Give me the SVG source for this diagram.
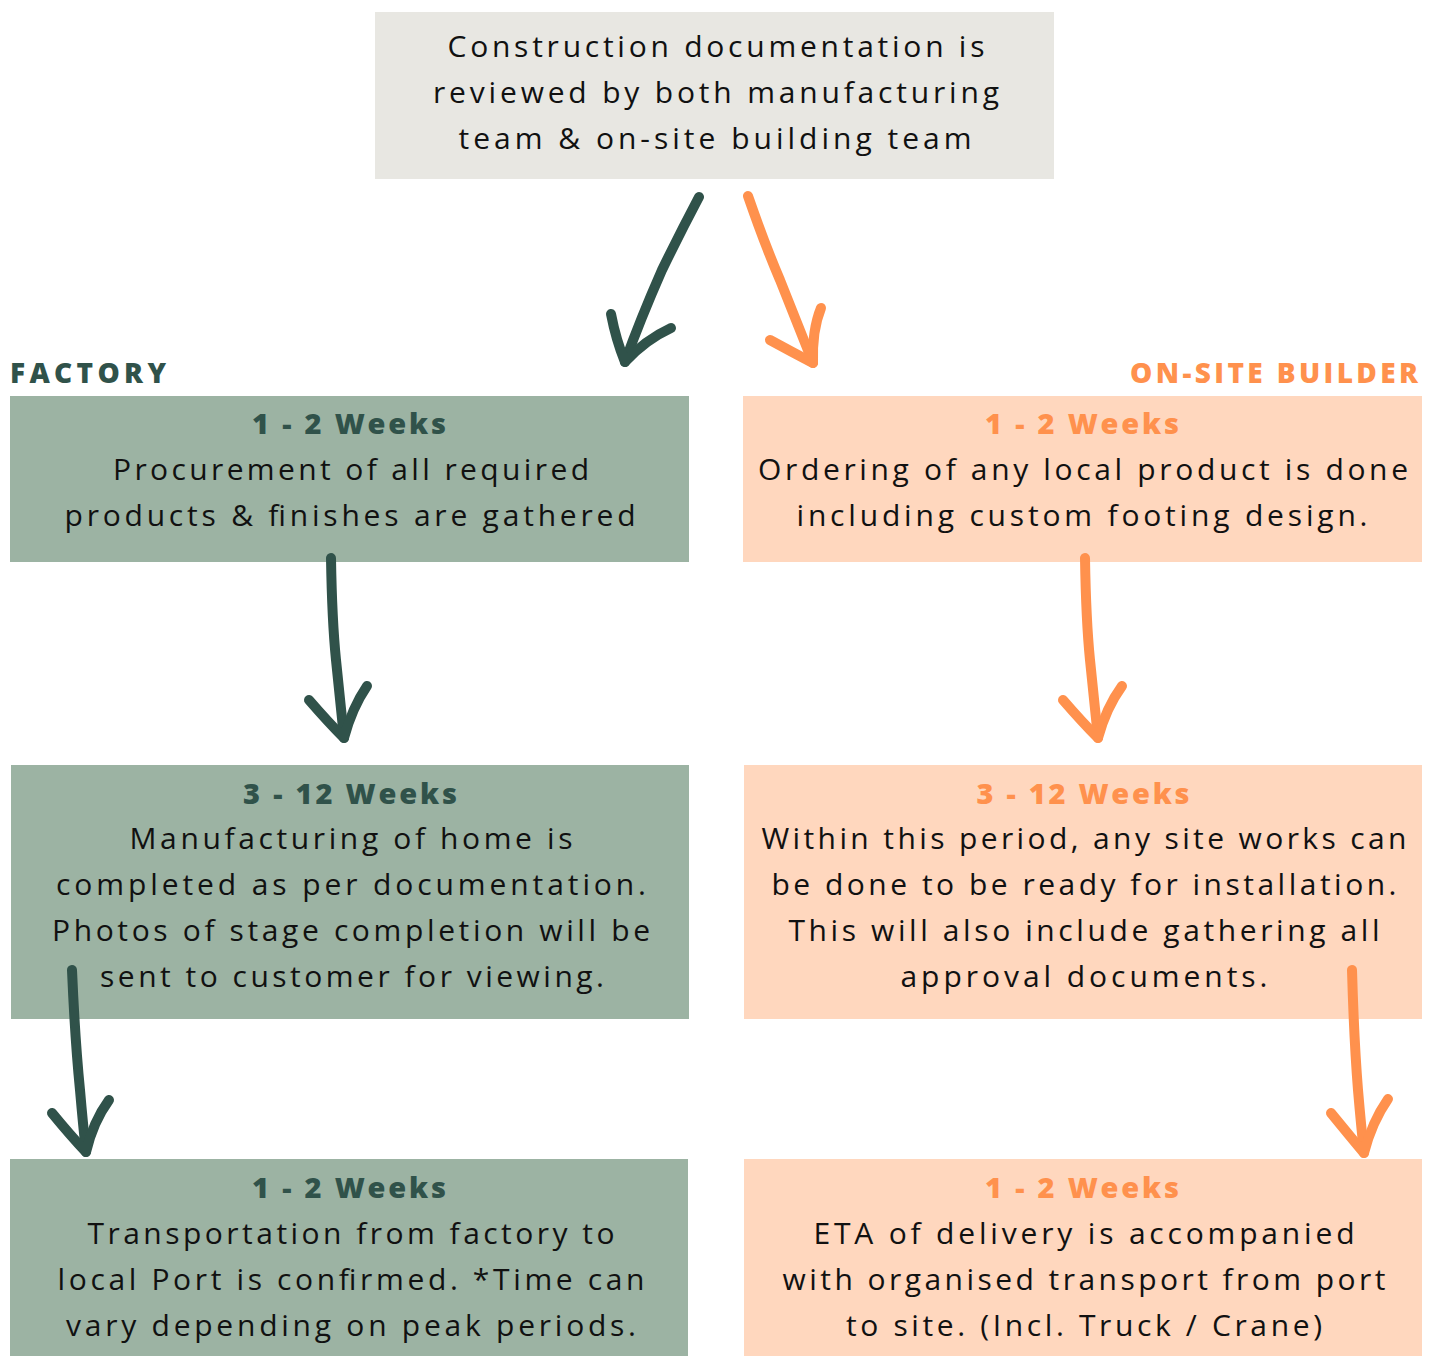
<svg xmlns="http://www.w3.org/2000/svg" width="1434" height="1356" viewBox="0 0 1434 1356">
<style>
.bg{fill:#ffffff}
.top{fill:#E8E7E2}
.fac{fill:#9CB3A3}
.ons{fill:#FFD7BE}
.t{font-family:"Open Sans","Liberation Sans",sans-serif;font-size:30px;fill:#111111;text-anchor:middle}
.h{font-family:"Open Sans","Liberation Sans",sans-serif;font-size:29px;font-weight:800;text-anchor:middle}
.hg{fill:#30524A}
.ho{fill:#FF914D}
.lbl{font-family:"Open Sans","Liberation Sans",sans-serif;font-size:28px;font-weight:800}
.ag{fill:none;stroke:#30524A;stroke-width:10;stroke-linecap:round;stroke-linejoin:round}
.ao{fill:none;stroke:#FF914D;stroke-width:10;stroke-linecap:round;stroke-linejoin:round}
</style>
<rect class="bg" x="0" y="0" width="1434" height="1356"/>

<g id="review">
<rect class="top" x="375" y="12" width="679" height="167"/>
<text class="t" x="716" y="57" textLength="537" lengthAdjust="spacing">Construction documentation is</text>
<text class="t" x="716" y="103" textLength="566" lengthAdjust="spacing">reviewed by both manufacturing</text>
<text class="t" x="715" y="149" textLength="513" lengthAdjust="spacing">team &amp; on-site building team</text>
</g>

<g id="label-factory">
<text class="lbl hg" x="10" y="383" textLength="156" lengthAdjust="spacing">FACTORY</text>
</g>
<g id="label-onsite">
<text class="lbl ho" x="1418" y="383" text-anchor="end" textLength="288" lengthAdjust="spacing">ON-SITE BUILDER</text>
</g>

<g id="factory-1">
<rect class="fac" x="10" y="396" width="679" height="166"/>
<text class="h hg" x="349" y="434" textLength="194" lengthAdjust="spacing">1 - 2 Weeks</text>
<text class="t" x="351" y="480" textLength="476" lengthAdjust="spacing">Procurement of all required</text>
<text class="t" x="350" y="526" textLength="571" lengthAdjust="spacing">products &amp; finishes are gathered</text>
</g>

<g id="onsite-1">
<rect class="ons" x="743" y="396" width="679" height="166"/>
<text class="h ho" x="1082" y="434" textLength="194" lengthAdjust="spacing">1 - 2 Weeks</text>
<text class="t" x="1083" y="480" textLength="650" lengthAdjust="spacing">Ordering of any local product is done</text>
<text class="t" x="1082" y="526" textLength="571" lengthAdjust="spacing">including custom footing design.</text>
</g>

<g id="factory-2">
<rect class="fac" x="11" y="765" width="678" height="254"/>
<text class="h hg" x="350" y="804" textLength="214" lengthAdjust="spacing">3 - 12 Weeks</text>
<text class="t" x="351" y="849" textLength="443" lengthAdjust="spacing">Manufacturing of home is</text>
<text class="t" x="351" y="895" textLength="590" lengthAdjust="spacing">completed as per documentation.</text>
<text class="t" x="351" y="941" textLength="598" lengthAdjust="spacing">Photos of stage completion will be</text>
<text class="t" x="352" y="987" textLength="504" lengthAdjust="spacing">sent to customer for viewing.</text>
</g>

<g id="onsite-2">
<rect class="ons" x="744" y="765" width="678" height="254"/>
<text class="h ho" x="1083" y="804" textLength="213" lengthAdjust="spacing">3 - 12 Weeks</text>
<text class="t" x="1084" y="849" textLength="645" lengthAdjust="spacing">Within this period, any site works can</text>
<text class="t" x="1084" y="895" textLength="625" lengthAdjust="spacing">be done to be ready for installation.</text>
<text class="t" x="1084" y="941" textLength="591" lengthAdjust="spacing">This will also include gathering all</text>
<text class="t" x="1084" y="987" textLength="367" lengthAdjust="spacing">approval documents.</text>
</g>

<g id="factory-3">
<rect class="fac" x="10" y="1159" width="678" height="197"/>
<text class="h hg" x="349" y="1198" textLength="194" lengthAdjust="spacing">1 - 2 Weeks</text>
<text class="t" x="351" y="1244" textLength="527" lengthAdjust="spacing">Transportation from factory to</text>
<text class="t" x="351" y="1290" textLength="587" lengthAdjust="spacing">local Port is confirmed. *Time can</text>
<text class="t" x="351" y="1336" textLength="570" lengthAdjust="spacing">vary depending on peak periods.</text>
</g>

<g id="onsite-3">
<rect class="ons" x="744" y="1159" width="678" height="197"/>
<text class="h ho" x="1082" y="1198" textLength="194" lengthAdjust="spacing">1 - 2 Weeks</text>
<text class="t" x="1084" y="1244" textLength="541" lengthAdjust="spacing">ETA of delivery is accompanied</text>
<text class="t" x="1084" y="1290" textLength="603" lengthAdjust="spacing">with organised transport from port</text>
<text class="t" x="1084" y="1336" textLength="476" lengthAdjust="spacing">to site. (Incl. Truck / Crane)</text>
</g>

<g id="connectors">
<path class="ag" d="M699,197 Q680,233 662,270 Q640,320 625,362"/>
<path class="ag" d="M611,314 Q616,340 625,362 Q645,340 671,328"/>
<path class="ao" d="M748,196 Q765,245 780,280 Q798,325 813,363"/>
<path class="ao" d="M770,340 Q792,352 813,363 Q812,330 821,308"/>
<path class="ag" d="M331,558 Q332,620 336,660 Q340,700 344,738"/>
<path class="ag" d="M309,700 Q328,722 344,738 Q352,708 367,686"/>
<path class="ao" d="M1085,558 Q1086,620 1090,660 Q1094,700 1098,738"/>
<path class="ao" d="M1063,700 Q1082,722 1098,738 Q1106,708 1122,686"/>
<path class="ag" d="M72,970 Q75,1040 80,1090 Q83,1125 86,1152"/>
<path class="ag" d="M52,1113 Q70,1135 86,1152 Q93,1122 109,1100"/>
<path class="ao" d="M1352,970 Q1354,1040 1358,1090 Q1361,1125 1364,1153"/>
<path class="ao" d="M1331,1113 Q1349,1135 1364,1153 Q1372,1122 1388,1099"/>
</g>
</svg>
